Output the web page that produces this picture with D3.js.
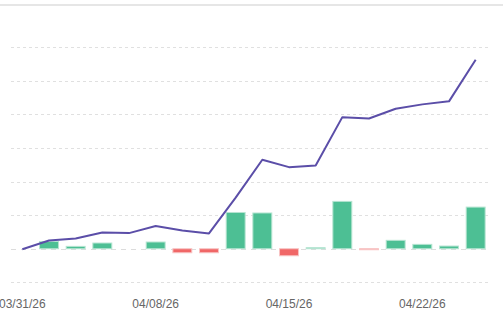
<!DOCTYPE html>
<html>
<head>
<meta charset="utf-8">
<script src="https://cdn.jsdelivr.net/npm/d3@7"></script>
<style>
  html, body { margin: 0; padding: 0; background: #fff; }
  svg { display: block; }
</style>
</head>
<body>
<svg id="chart" width="503" height="324"></svg>
<script>
// Trading days (Good Friday 04/03 closed)
const dates = ["03/31/26","04/01/26","04/02/26","04/06/26","04/07/26","04/08/26","04/09/26","04/10/26","04/13/26","04/14/26","04/15/26","04/16/26","04/17/26","04/20/26","04/21/26","04/22/26","04/23/26","04/24/26"];
const dailyValues = [0, 0.43, 0.14, 0.34, 0.0, 0.40, -0.24, -0.24, 2.16, 2.13, -0.42, 0.06, 2.82, -0.06, 0.50, 0.26, 0.16, 2.48];
const cumulativeValues = [-0.03, 0.49, 0.61, 0.97, 0.93, 1.35, 1.09, 0.91, 3.04, 5.30, 4.86, 4.96, 7.84, 7.76, 8.34, 8.60, 8.78, 11.26];
const gridTicks = [-2, 2, 4, 6, 8, 10, 12];
const tickLabels = ["03/31/26", "04/08/26", "04/15/26", "04/22/26"];

const svg = d3.select("#chart");
const W = 503, H = 324;

// top border
svg.append("line").attr("x1", 0).attr("x2", W).attr("y1", 5).attr("y2", 5)
  .attr("stroke", "#e6e6e6").attr("stroke-width", 2);

const x = d3.scaleBand().domain(dates).range([9, 489]).paddingInner(0.29).paddingOuter(0.145);
const y = d3.scaleLinear().domain([-2, 12]).range([282.3, 47.3]);
const cx = d => x(d) + x.bandwidth() / 2;

// grid
svg.append("g").selectAll("line").data(gridTicks).join("line")
  .attr("x1", 11).attr("x2", 489)
  .attr("y1", d => Math.round(y(d)) + 0.5).attr("y2", d => Math.round(y(d)) + 0.5)
  .attr("stroke", "#e0e0e0").attr("stroke-width", 1).attr("stroke-dasharray", "3,3");
// zero line
svg.append("line").attr("x1", 11).attr("x2", 489)
  .attr("y1", Math.round(y(0)) + 0.5).attr("y2", Math.round(y(0)) + 0.5)
  .attr("stroke", "#dcdcdc").attr("stroke-width", 1).attr("stroke-dasharray", "5,5");

// bars
svg.append("g").selectAll("rect").data(dates.map((d, i) => ({d, v: dailyValues[i]})).filter(o => o.v !== 0))
  .join("rect")
  .attr("x", o => x(o.d))
  .attr("width", x.bandwidth())
  .attr("y", o => y(Math.max(0, o.v)))
  .attr("height", o => Math.abs(y(o.v) - y(0)))
  .attr("fill", o => o.v >= 0 ? "#4dbf94" : "#f06767")
  .attr("stroke", o => o.v >= 0 ? "#b5e4d1" : "#f8c4c4")
  .attr("stroke-width", 1);

// line
const line = d3.line().x((d, i) => cx(dates[i])).y(d => y(d));
svg.append("path").datum(cumulativeValues)
  .attr("d", line)
  .attr("fill", "none")
  .attr("stroke", "#5b4ea8")
  .attr("stroke-width", 2)
  .attr("stroke-linejoin", "round");

// x labels
const xAxis = d3.axisBottom(x).tickValues(tickLabels).tickSize(0).tickPadding(0);
const gx = svg.append("g").attr("transform", "translate(0,299)").call(xAxis);
gx.select(".domain").remove();
gx.selectAll("text")
  .attr("dy", "0.71em")
  .attr("fill", "#666")
  .style("font-family", "Arial, 'Liberation Sans', sans-serif")
  .style("font-size", "12px");
</script>
</body>
</html>
